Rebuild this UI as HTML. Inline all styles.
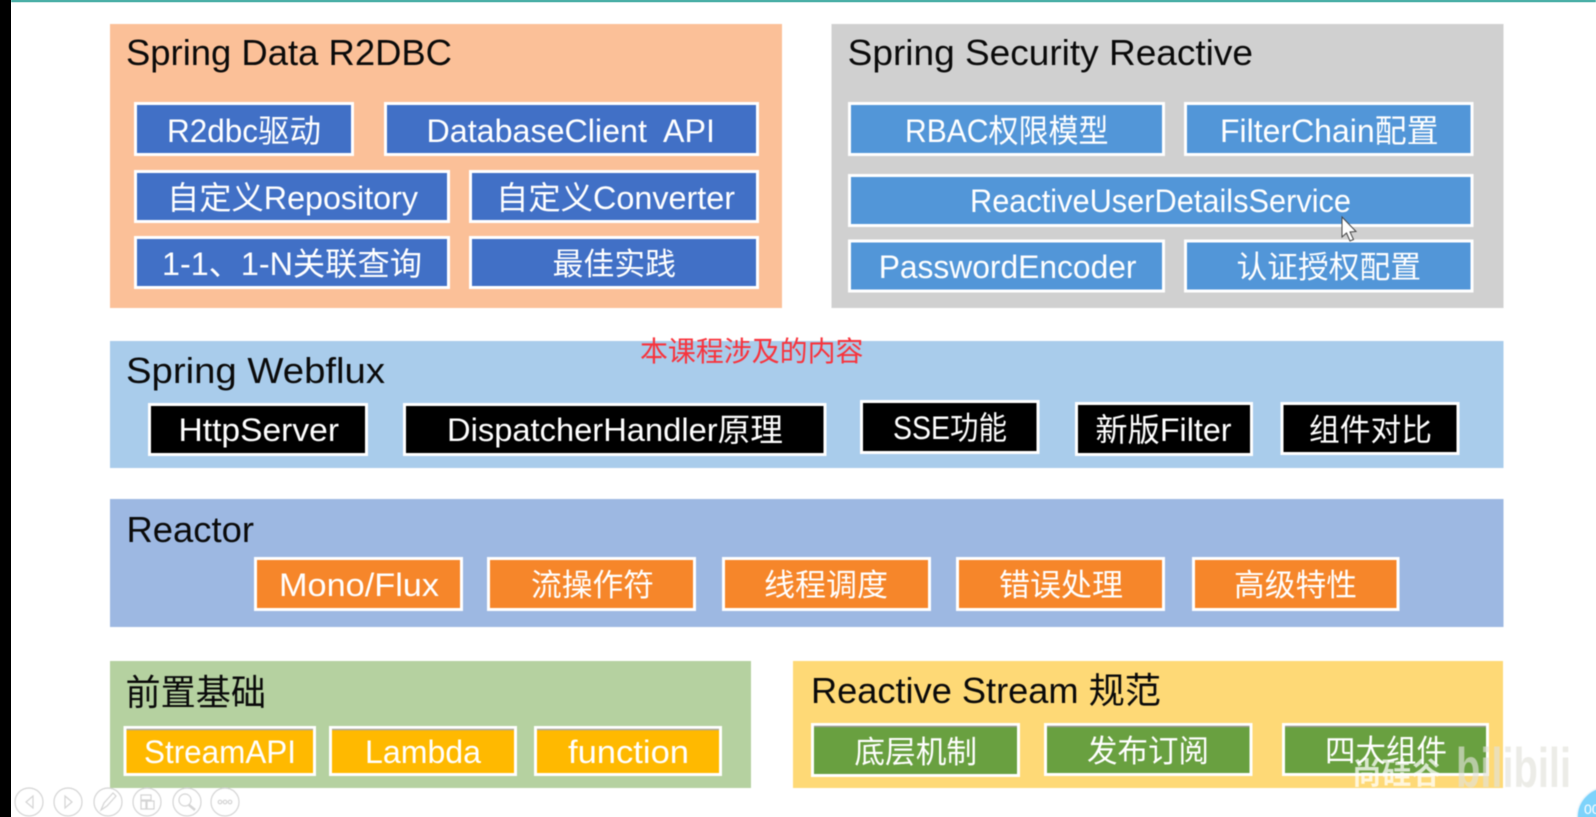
<!DOCTYPE html>
<html lang="zh">
<head>
<meta charset="utf-8">
<title>Spring Reactive</title>
<style>
html,body{margin:0;padding:0;width:1596px;height:817px;overflow:hidden;background:#fff}
svg{display:block}
text{font-family:"Liberation Sans","Noto Sans CJK SC",sans-serif}
.h{font-size:36px;fill:#0a0a0a}
.b{font-size:32px;fill:#fff;text-anchor:start}
.c{font-size:31px;fill:#fff}
.box{stroke:#fff;stroke-width:3}
.blue{fill:#4170c6}.sky{fill:#5296d8}.blk{fill:#000}.org{fill:#f6862a}.amb{fill:#ffb900}.grn{fill:#69a040}
.soft{filter:blur(.45px)}
</style>
</head>
<body>
<svg width="1596" height="817" viewBox="0 0 1596 817" xmlns="http://www.w3.org/2000/svg">
<rect width="1596" height="817" fill="#fff"/>
<g class="soft">
<rect x="11" y="0" width="1585" height="2" fill="#1a9a90"/>

<!-- panels -->
<rect x="110" y="24" width="672" height="284" fill="#fbc098"/>
<rect x="831.5" y="24" width="672" height="284" fill="#d0d0d0"/>
<rect x="110" y="341" width="1393.5" height="127" fill="#a9cceb"/>
<rect x="110" y="499" width="1393.5" height="128" fill="#9db8e2"/>
<rect x="110" y="661" width="641" height="127" fill="#b5d1a0"/>
<rect x="793" y="661" width="710" height="127" fill="#fed976"/>

<!-- R2DBC -->
<text class="h" x="126" y="65" textLength="326" lengthAdjust="spacingAndGlyphs">Spring Data R2DBC</text>
<rect class="box blue" x="135.5" y="103.500" width="217" height="51"/>
<rect class="box blue" x="385.5" y="103.500" width="372" height="51"/>
<rect class="box blue" x="135.5" y="171.500" width="313" height="50"/>
<rect class="box blue" x="470.5" y="171.500" width="287" height="50"/>
<rect class="box blue" x="135.5" y="237.500" width="313" height="50"/>
<rect class="box blue" x="470.5" y="237.500" width="287" height="50"/>
<text class="b" x="167" y="142" textLength="154" lengthAdjust="spacingAndGlyphs">R2dbc驱动</text>
<text class="b" x="426.500" y="142" textLength="288.500" lengthAdjust="spacingAndGlyphs" xml:space="preserve">DatabaseClient  API</text>
<text class="b" x="167" y="209" textLength="251" lengthAdjust="spacingAndGlyphs">自定义Repository</text>
<text class="b" x="496" y="209" textLength="239" lengthAdjust="spacingAndGlyphs">自定义Converter</text>
<text class="b" x="162" y="275" textLength="260" lengthAdjust="spacingAndGlyphs">1-1、1-N关联查询</text>
<text class="c" x="552.500" y="275" textLength="123.500" lengthAdjust="spacingAndGlyphs">最佳实践</text>

<!-- Security -->
<text class="h" x="847.700" y="65" textLength="405.300" lengthAdjust="spacingAndGlyphs">Spring Security Reactive</text>
<rect class="box sky" x="849.500" y="103.500" width="314" height="51"/>
<rect class="box sky" x="1185.500" y="103.500" width="286.500" height="51"/>
<rect class="box sky" x="849.500" y="175.500" width="622.500" height="50"/>
<rect class="box sky" x="849.500" y="241" width="314" height="50"/>
<rect class="box sky" x="1185.500" y="241" width="286.500" height="50"/>
<text class="b" x="905" y="142" textLength="203.600" lengthAdjust="spacingAndGlyphs">RBAC权限模型</text>
<text class="b" x="1220" y="142" textLength="218.600" lengthAdjust="spacingAndGlyphs">FilterChain配置</text>
<text class="b" x="970" y="212" textLength="381" lengthAdjust="spacingAndGlyphs">ReactiveUserDetailsService</text>
<text class="b" x="878.700" y="278" textLength="257.800" lengthAdjust="spacingAndGlyphs">PasswordEncoder</text>
<text class="c" x="1236.500" y="278" textLength="184.500" lengthAdjust="spacingAndGlyphs">认证授权配置</text>
<path d="M1342 217 L1342 237 L1346.500 233 L1350 241 L1353.500 239.500 L1350 232 L1356 231.500 Z" fill="#fff" stroke="#444" stroke-width="1"/>

<!-- Webflux -->
<text class="h" x="126" y="383" textLength="259" lengthAdjust="spacingAndGlyphs">Spring Webflux</text>
<text x="640" y="361" font-size="28" fill="#f8333c" textLength="223.500" lengthAdjust="spacingAndGlyphs">本课程涉及的内容</text>
<rect class="box blk" x="149.500" y="404.500" width="217" height="50"/>
<rect class="box blk" x="404.500" y="404.500" width="420.500" height="50"/>
<rect class="box blk" x="861.500" y="401.500" width="176.500" height="51"/>
<rect class="box blk" x="1076.500" y="403.500" width="175" height="51"/>
<rect class="box blk" x="1282" y="403.500" width="176" height="50"/>
<text class="b" x="178.500" y="441" textLength="160.500" lengthAdjust="spacingAndGlyphs">HttpServer</text>
<text class="b" x="447" y="441" textLength="336" lengthAdjust="spacingAndGlyphs">DispatcherHandler原理</text>
<text class="b" x="893" y="439" textLength="114" lengthAdjust="spacingAndGlyphs">SSE功能</text>
<text class="b" x="1095.400" y="441" textLength="136.100" lengthAdjust="spacingAndGlyphs">新版Filter</text>
<text class="c" x="1309" y="441" textLength="123" lengthAdjust="spacingAndGlyphs">组件对比</text>

<!-- Reactor -->
<text class="h" x="126.500" y="542" textLength="127.500" lengthAdjust="spacingAndGlyphs">Reactor</text>
<rect class="box org" x="255.500" y="558.500" width="206" height="51"/>
<rect class="box org" x="488.500" y="558.500" width="206" height="51"/>
<rect class="box org" x="723.500" y="558.500" width="206" height="51"/>
<rect class="box org" x="957.500" y="558.500" width="206" height="51"/>
<rect class="box org" x="1193.500" y="558.500" width="204.500" height="51"/>
<text class="b" x="279" y="596" textLength="160" lengthAdjust="spacingAndGlyphs">Mono/Flux</text>
<text class="c" x="531" y="596" textLength="123" lengthAdjust="spacingAndGlyphs">流操作符</text>
<text class="c" x="764" y="596" textLength="124" lengthAdjust="spacingAndGlyphs">线程调度</text>
<text class="c" x="999" y="596" textLength="124" lengthAdjust="spacingAndGlyphs">错误处理</text>
<text class="c" x="1234" y="596" textLength="123" lengthAdjust="spacingAndGlyphs">高级特性</text>

<!-- 前置基础 -->
<text class="h" x="125.500" y="705" textLength="140.500" lengthAdjust="spacingAndGlyphs">前置基础</text>
<rect class="box amb" x="125" y="727.500" width="189.500" height="47"/>
<rect class="box amb" x="330.500" y="727.500" width="185" height="47"/>
<rect class="box amb" x="535.500" y="727.500" width="185" height="47"/>
<path d="M126.500 729.500H313M332 729.500H514M537 729.500H719" stroke="#a8a8a0" stroke-width="1.500" fill="none"/>
<text class="b" x="144" y="763" textLength="152" lengthAdjust="spacingAndGlyphs">StreamAPI</text>
<text class="b" x="365" y="763" textLength="116" lengthAdjust="spacingAndGlyphs">Lambda</text>
<text class="b" x="568" y="763" textLength="121" lengthAdjust="spacingAndGlyphs">function</text>

<!-- Reactive Stream -->
<text class="h" x="811" y="703" textLength="350" lengthAdjust="spacingAndGlyphs">Reactive Stream 规范</text>
<rect class="box grn" x="812.500" y="724.500" width="206" height="51"/>
<rect class="box grn" x="1045.500" y="724.500" width="205.500" height="50"/>
<rect class="box grn" x="1283.500" y="724.500" width="204" height="50"/>
<path d="M814 726.500H1017M1047 726.500H1249.500M1285 726.500H1486" stroke="#98988f" stroke-width="1.500" fill="none"/>
<text class="c" x="854.400" y="763" textLength="122.600" lengthAdjust="spacingAndGlyphs">底层机制</text>
<text class="c" x="1087" y="762" textLength="122" lengthAdjust="spacingAndGlyphs">发布订阅</text>
<text class="c" x="1325" y="762" textLength="122" lengthAdjust="spacingAndGlyphs">四大组件</text>

<!-- watermark -->
<text x="1352" y="784" font-size="30" font-weight="bold" fill="#fff" fill-opacity=".75" textLength="89" lengthAdjust="spacingAndGlyphs">尚硅谷</text>
<text x="1456" y="787" font-size="56" font-weight="bold" fill="#e2e2da" fill-opacity=".65" textLength="115" lengthAdjust="spacingAndGlyphs">bilibili</text>

<!-- playback controls -->
<g fill="none" stroke="#d4d4d4" stroke-width="1.200">
<circle cx="29" cy="802" r="14"/>
<circle cx="68" cy="802" r="14"/>
<circle cx="108" cy="802" r="14"/>
<circle cx="147" cy="802" r="14"/>
<circle cx="187" cy="802" r="14"/>
<circle cx="225" cy="802" r="14"/>
<path d="M33 796 L26 802 L33 808 Z"/>
<path d="M65 796 L72 802 L65 808 Z"/>
<path d="M101 810 L104 803 L113 793 L116 796 L107 806 Z"/>
<path d="M141 795 H151 V800 H141 Z M141 801 H146 V809 H141 Z M147 801 H154 V809 H147 Z"/>
<circle cx="185" cy="800" r="6"/>
<path d="M189 805 L195 810" stroke-width="2.500"/>
<circle cx="220" cy="802" r="1.800"/>
<circle cx="225" cy="802" r="1.800"/>
<circle cx="230" cy="802" r="1.800"/>
</g>

<!-- corner badge -->
<circle cx="1607" cy="817" r="30" fill="#7dd3fb" stroke="#eef6fb" stroke-width="1.500"/>
<text x="1584" y="814" font-size="14" fill="#fff">00</text>
</g>
<rect x="0" y="0" width="11" height="817" fill="#000"/>
</svg>
</body>
</html>
